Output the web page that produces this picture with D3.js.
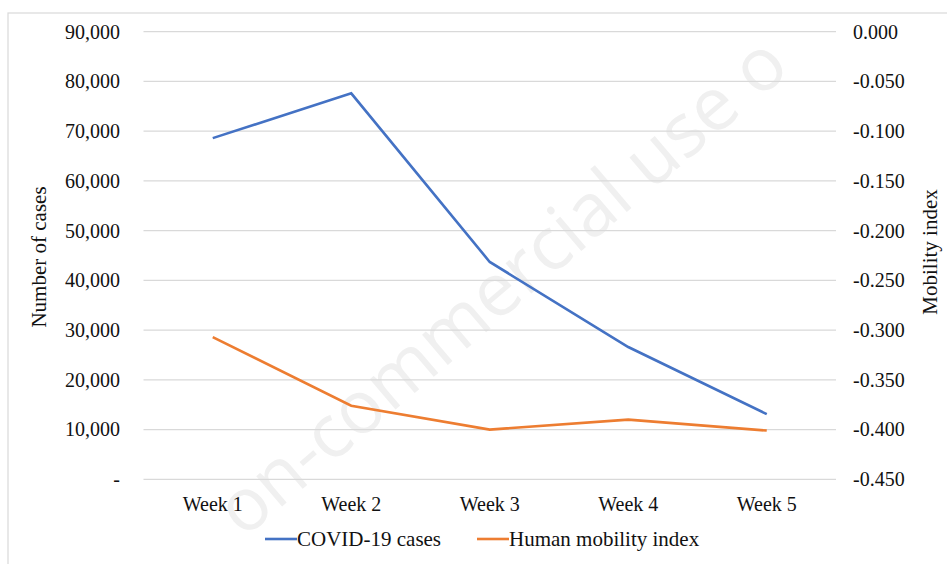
<!DOCTYPE html>
<html><head><meta charset="utf-8">
<script src="https://cdn.jsdelivr.net/npm/d3@7"></script>
<style>body{margin:0;background:#fff}svg{display:block}text{font-family:"Liberation Serif","Times New Roman",serif;fill:#111}</style>
</head><body><svg id="c" width="947" height="564"></svg>
<script>
const weeks = ["Week 1","Week 2","Week 3","Week 4","Week 5"];
const covidCases = [68600, 77600, 43700, 26600, 13100];
const mobilityIndex = [-0.307, -0.376, -0.400, -0.390, -0.401];
const leftTicks = [0,10000,20000,30000,40000,50000,60000,70000,80000,90000];
const rightTicks = [0,-0.05,-0.1,-0.15,-0.2,-0.25,-0.3,-0.35,-0.4,-0.45];
const seriesNames = ["COVID-19 cases","Human mobility index"];
const colors = ["#4472C4","#ED7D31"];

const svg = d3.select("#c");
const W=947,H=564;
svg.append("rect").attr("x",8).attr("y",13).attr("width",W).attr("height",H).attr("fill","none").attr("stroke","#d9d9d9").attr("stroke-width",1.2);

// watermark
svg.append("text").attr("transform","translate(505,290) rotate(-40.5)")
  .attr("text-anchor","middle").attr("dominant-baseline","middle")
  .style("font-family","'Open Sans',sans-serif").style("font-size","74px").style("fill","#f0f0f0")
  .text("on-commercial use o");

const x = d3.scaleBand().domain(weeks).range([143.5,836]);
const yL = d3.scaleLinear().domain([0,90000]).range([479.3,31.7]);
const yR = d3.scaleLinear().domain([-0.45,0]).range([479.3,31.7]);

// gridlines
svg.append("g").selectAll("line").data(leftTicks).join("line")
  .attr("x1",143.5).attr("x2",836).attr("y1",d=>yL(d)).attr("y2",d=>yL(d))
  .attr("stroke","#d9d9d9").attr("stroke-width",1.3);

const fmtL = d=> d===0 ? "-" : d3.format(",")(d);
const axL = d3.axisLeft(yL).tickValues(leftTicks).tickFormat(fmtL).tickSize(0).tickPadding(0);
const gL = svg.append("g").attr("transform","translate(120,0)").call(axL);
gL.select(".domain").remove();
gL.selectAll("text").style("font-size","20px").style("font-family","'Liberation Serif',serif").attr("fill","#111");

const fmtR = d=> (d<0?"-":"") + Math.abs(d).toFixed(3);
const axR = d3.axisRight(yR).tickValues(rightTicks).tickFormat(fmtR).tickSize(0).tickPadding(0);
const gR = svg.append("g").attr("transform","translate(853,0)").call(axR);
gR.select(".domain").remove();
gR.selectAll("text").style("font-size","20px").style("font-family","'Liberation Serif',serif").attr("fill","#111");

const axX = d3.axisBottom(x).tickSize(0).tickPadding(0);
const gX = svg.append("g").attr("transform","translate(0,497)").call(axX);
gX.select(".domain").remove();
gX.selectAll("text").attr("dy","0.71em").style("font-size","20px").style("font-family","'Liberation Serif',serif").attr("fill","#111");

const cx = d=> x(d)+x.bandwidth()/2;
const line1 = d3.line().x((d,i)=>cx(weeks[i])).y(d=>yL(d));
const line2 = d3.line().x((d,i)=>cx(weeks[i])).y(d=>yR(d));
svg.append("path").attr("d",line1(covidCases)).attr("fill","none").attr("stroke",colors[0]).attr("stroke-width",2.6);
svg.append("path").attr("d",line2(mobilityIndex)).attr("fill","none").attr("stroke",colors[1]).attr("stroke-width",2.6);

// axis titles
svg.append("text").attr("transform","translate(41,257) rotate(-90)").attr("text-anchor","middle").attr("dominant-baseline","middle").style("font-size","21px").text("Number of cases");
svg.append("text").attr("transform","translate(932,252) rotate(-90)").attr("text-anchor","middle").attr("dominant-baseline","middle").style("font-size","21px").text("Mobility index");

// legend
const legX = [265, 477];
const lg = svg.append("g");
seriesNames.forEach((n,i)=>{
  lg.append("line").attr("x1",legX[i]).attr("x2",legX[i]+32).attr("y1",539).attr("y2",539).attr("stroke",colors[i]).attr("stroke-width",2.6);
  lg.append("text").attr("x",legX[i]+32).attr("y",546).style("font-size","21px").text(n);
});
</script></body></html>
